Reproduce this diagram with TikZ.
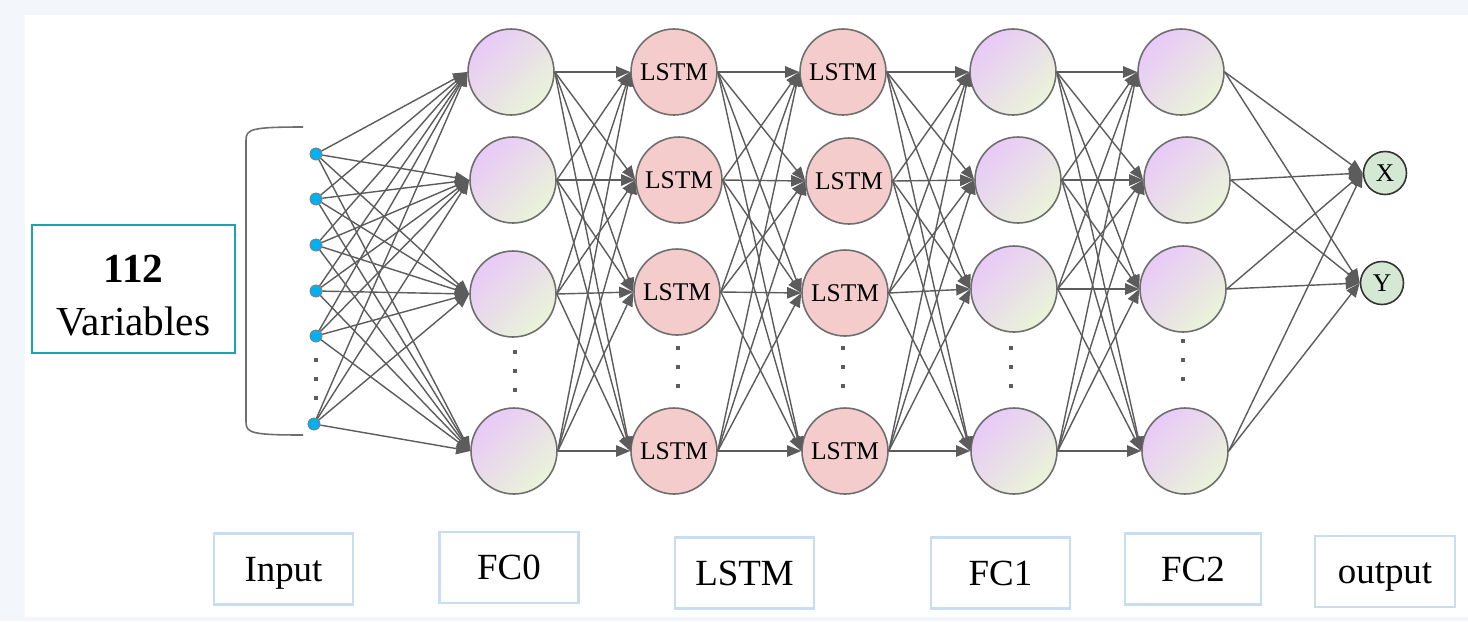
\documentclass[tikz,border=0pt]{standalone}
\usepackage{fontspec}
\setmainfont{Liberation Serif}
\usetikzlibrary{arrows.meta, positioning}

\definecolor{pageblue}{HTML}{F3F7FB}
\definecolor{wirecol}{HTML}{5C5C5C}
\definecolor{ringcol}{HTML}{6E6E6E}
\definecolor{lilac}{HTML}{E8C9F8}
\definecolor{sage}{HTML}{EAF4D8}
\definecolor{lstmpink}{HTML}{F4CCCC}
\definecolor{outgreen}{HTML}{D5E8D4}
\definecolor{inblue}{HTML}{00B0F0}
\definecolor{tealbox}{HTML}{1AA3B0}
\definecolor{tagblue}{HTML}{C8DDF1}

\begin{document}
\begin{tikzpicture}[
    x=0.2mm, y=-0.2mm,
    wire/.style={draw=wirecol, line width=0.8pt, -{Triangle[length=8pt, width=6.5pt]}},
    unit/.style={circle, draw=ringcol, line width=0.9pt, minimum size=17.2mm, inner sep=0pt},
    fcunit/.style={unit, top color=lilac, bottom color=sage, shading angle=45},
    lstmunit/.style={unit, fill=lstmpink, font=\fontsize{14.5}{16}\selectfont},
    outunit/.style={circle, draw=black!80, line width=0.9pt, fill=outgreen,
      minimum size=8.6mm, inner sep=0pt, font=\fontsize{14.5}{16}\selectfont},
    inunit/.style={circle, draw=gray, fill=inblue, line width=0.5pt,
      minimum size=2.4mm, inner sep=0pt},
    tag/.style={draw=tagblue, line width=1.6pt, minimum width=27.8mm,
      minimum height=14.2mm, text height=14pt, text depth=0pt,
      font=\fontsize{21}{24}\selectfont},
    gap/.style={fill=wirecol},
  ]
    % page
    \useasboundingbox (0,0) rectangle (1468,621);
    \fill[pageblue] (0,0) rectangle (1468,621);
    \fill[white] (25,15) rectangle (1468,617);

    % input variables
    \node[draw=tealbox, line width=0.9pt, minimum width=40.6mm, minimum height=25.6mm,
      align=center, font=\fontsize{23.5}{30}\selectfont] (vars) at (133.5,289)
      {\rule{0pt}{23pt}\textbf{112}\\Variables};
    \draw[ringcol, line width=0.9pt] (303,127) .. controls (252,127) and (246,129) .. (246,140)
      -- (246,422) .. controls (246,433) and (252,435) .. (303,435);
    \node[inunit] (i1) at (316,154) {};
    \node[inunit] (i2) at (316,199) {};
    \node[inunit] (i3) at (316,245) {};
    \node[inunit] (i4) at (316,291) {};
    \node[inunit] (i5) at (316,336) {};
    \node[inunit] (i6) at (314,424) {};

    % FC0
    \node[fcunit] (a1) at (511,72) {};
    \node[fcunit] (a2) at (513,180) {};
    \node[fcunit] (a3) at (513,294) {};
    \node[fcunit] (a4) at (514,451) {};
    % LSTM layers
    \node[lstmunit] (b1) at (674,72) {LSTM};
    \node[lstmunit] (b2) at (679,180) {LSTM};
    \node[lstmunit] (b3) at (677,292) {LSTM};
    \node[lstmunit] (b4) at (674,451) {LSTM};
    \node[lstmunit] (c1) at (843,72) {LSTM};
    \node[lstmunit] (c2) at (849,181) {LSTM};
    \node[lstmunit] (c3) at (845,293) {LSTM};
    \node[lstmunit] (c4) at (845,451) {LSTM};
    % FC1 and FC2
    \node[fcunit] (d1) at (1013,72) {};
    \node[fcunit] (d2) at (1018,180) {};
    \node[fcunit] (d3) at (1014,289) {};
    \node[fcunit] (d4) at (1014,451) {};
    \node[fcunit] (e1) at (1181,72) {};
    \node[fcunit] (e2) at (1187,180) {};
    \node[fcunit] (e3) at (1183,289) {};
    \node[fcunit] (e4) at (1185,451) {};
    % outputs
    \node[outunit] (oX) at (1385,173) {X};
    \node[outunit] (oY) at (1382,283) {Y};

    % skipped units
    \foreach \x/\y in {316/360, 515/352, 678/348, 843/348, 1011/348, 1183/341}
      \foreach \k in {0,1,2}
        \fill[gap] (\x-2,\y+19*\k-2) rectangle (\x+2,\y+19*\k+2);

    % connections
    \foreach \s in {1,...,6}
      \foreach \t in {1,...,4}
        \draw[wire] (i\s) -- (a\t.west);
    \foreach \from/\to in {a/b, b/c, c/d, d/e}
      \foreach \s in {1,...,4}
        \foreach \t in {1,...,4}
          \draw[wire] (\from\s.east) -- (\to\t.west);
    \foreach \s in {1,...,4}
      \foreach \t in {X,Y}
        \draw[wire] (e\s.east) -- (o\t.west);

    % layer names
    \node[tag] (tIn) at (283.5,569) {Input};
    \node[tag] (tFC0) at (509,567.5) {FC0};
    \node[tag] (tLSTM) at (744.5,573) {LSTM};
    \node[tag] (tFC1) at (1000.5,573) {FC1};
    \node[tag, minimum width=27.2mm] (tFC2) at (1193,569) {FC2};
    \node[tag, minimum width=28mm] (tOut) at (1385,571.5) {output};
\end{tikzpicture}
\end{document}
